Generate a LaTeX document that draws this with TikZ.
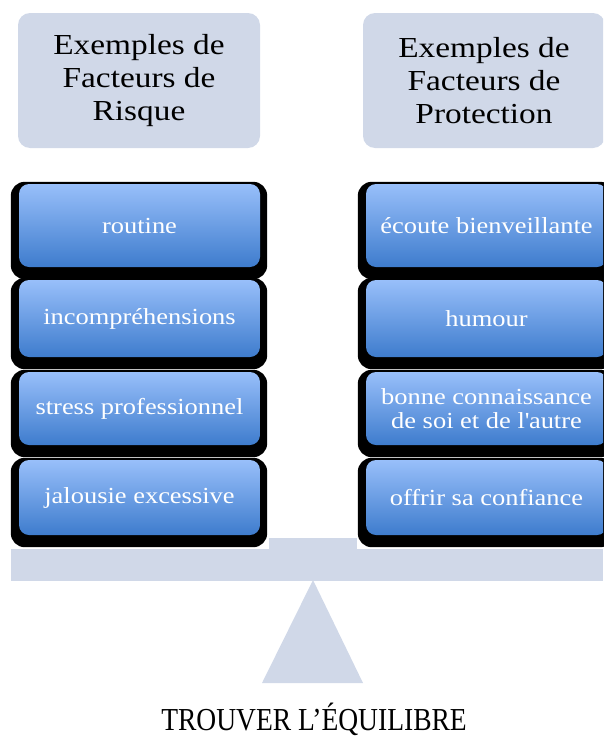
\documentclass[tikz,border=0pt]{standalone}
\usepackage{fontspec}
\setmainfont[FakeStretch=1.15]{Liberation Serif}
\newfontfamily\titlefont[FakeStretch=0.86]{Liberation Serif}
\usetikzlibrary{backgrounds}
\definecolor{hdr}{RGB}{208,216,232}
\definecolor{btop}{RGB}{152,191,250}
\definecolor{bbot}{RGB}{62,124,205}
\tikzset{
  header/.style={fill=hdr, rounded corners=12pt, minimum width=242pt, minimum height=135pt,
    align=center, inner sep=0pt, font=\fontsize{29}{33}\selectfont},
  factor/.style={rounded corners=10pt, top color=btop, bottom color=bbot, minimum width=241pt,
    inner sep=0pt, align=center, text=white, font=\fontsize{23}{24}\selectfont},
  shadowbox/.style={fill=black, rounded corners=14pt},
  balance/.style={fill=hdr}
}
\newcommand{\shadowof}[1]{%
  \fill[shadowbox] ([shift={(-8,-2)}]#1.north west) rectangle ([shift={(7,12)}]#1.south east);}
\begin{document}
\begin{tikzpicture}[x=1pt,y=-1pt]
\useasboundingbox (0,0) rectangle (603,736);
\clip (0,0) rectangle (603,736);

% headers
\node[header] (hl) at (139,80.5) {Exemples de\\Facteurs de\\Risque};
\node[header] (hr) at (484,80.5) {Exemples de\\Facteurs de\\Protection};

% left factors
\node[factor, minimum height=83pt] (l1) at (139.5,225.5) {routine};
\node[factor, minimum height=77pt] (l2) at (139.5,318.5) {incompréhensions};
\node[factor, minimum height=73pt] (l3) at (139.5,408.5) {stress professionnel};
\node[factor, minimum height=75pt] (l4) at (139.5,497.5) {jalousie excessive};

% right factors
\node[factor, minimum height=83pt] (r1) at (486.5,225.5) {écoute bienveillante};
\node[factor, minimum height=77pt] (r2) at (486.5,318.5) {humour};
\node[factor, minimum height=73pt] (r3) at (486.5,408.5) {bonne connaissance\\de soi et de l\textquotesingle autre};
\node[factor, minimum height=75pt] (r4) at (486.5,497.5) {offrir sa confiance};

\begin{scope}[on background layer]
  \shadowof{l1}\shadowof{l2}\shadowof{l3}\shadowof{l4}
  \shadowof{r1}\shadowof{r2}\shadowof{r3}\shadowof{r4}
\end{scope}

% balance
\fill[balance] (269,538) rectangle (357,550);
\fill[balance] (11,549) rectangle (603,581);
\fill[balance] (313,580) -- (363,683) -- (262,683) -- cycle;

\node[anchor=base, inner sep=0pt, font=\titlefont\fontsize{32}{32}\selectfont] (eq) at (314,730) {TROUVER L’ÉQUILIBRE};
\end{tikzpicture}
\end{document}
